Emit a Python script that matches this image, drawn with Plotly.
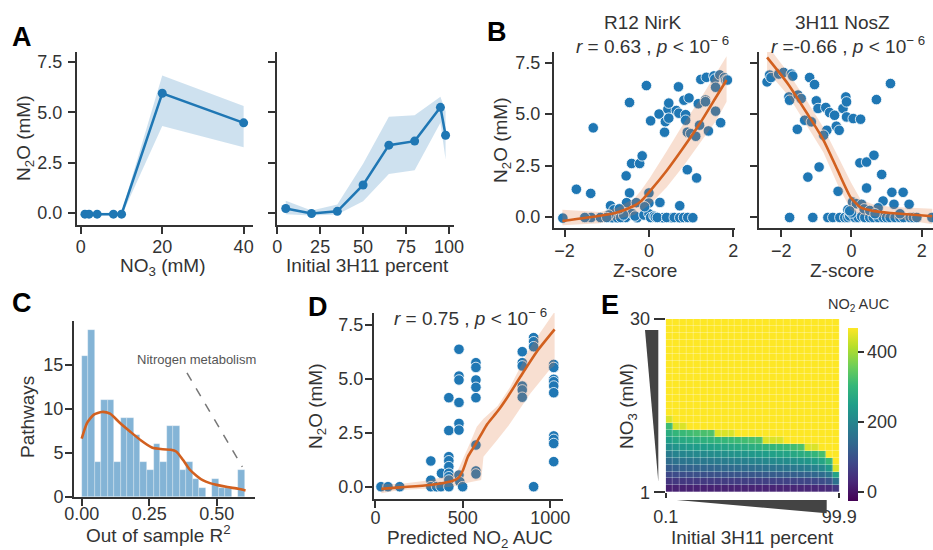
import plotly.graph_objects as go

W, H = 933, 550
FONT = "Liberation Sans, Arial, sans-serif"
INK = "#333333"
BLUE = "#1f77b4"
ORANGE = "#d2601f"
ORANGE_BAND = "rgba(224, 122, 64, 0.24)"
BLUE_BAND = "rgba(31, 119, 180, 0.22)"
TICK_SIZE = 18
TITLE_SIZE = 19

# ---------------- A: N2O vs nitrate and vs initial 3H11 share ----------------
no3_mm = [1, 2, 4, 8, 10, 20, 40]
no3_n2o = [-0.06, -0.06, -0.06, -0.06, -0.06, 5.95, 4.48]
no3_lo = [-0.12, -0.12, -0.12, -0.12, -0.14, 4.32, 3.27]
no3_hi = [0.0, 0.0, 0.0, 0.0, 0.02, 6.83, 5.31]

pct_3h11 = [5, 20, 35, 50, 65, 80, 95, 98]
pct_n2o = [0.22, -0.03, 0.08, 1.39, 3.37, 3.57, 5.25, 3.86]
pct_lo = [-0.06, -0.13, -0.08, 0.58, 1.94, 2.12, 4.48, 2.65]
pct_hi = [0.6, 0.12, 0.42, 2.45, 4.78, 4.86, 5.77, 5.06]

# ---------------- B: N2O vs enzyme Z-scores ----------------
nirk_z = [-2.04, -1.72, -1.38, -1.32, -1.37, -1.15, -1.52, -0.91, -0.87, -0.75,
          -0.83, -0.95, -1.0, -0.54, -0.46, -0.46, -0.41, -0.53, -0.55, -0.4,
          -0.67, -0.6, -0.7, -0.28, -0.33, -0.22, -0.16, -0.06, -0.12, -0.3,
          0.0, 0.0, 0.04, 0.0, 0.04, 0.12, -0.1, 0.15, 0.24, 0.26,
          0.33, 0.2, 0.37, 0.39, 0.45, 0.47, 0.47, 0.54, 0.42, 0.6,
          0.65, 0.70, 0.71, 0.73, 0.73, 0.83, 0.82, 0.87, 0.87, 0.91,
          0.91, 0.92, 0.95, 0.99, 1.04, 1.11, 1.13, 1.17, 1.2, 1.23,
          1.34, 1.36, 1.34, 1.41, 1.54, 1.56, 1.58, 1.58, 1.68, 1.7,
          1.79, 1.82, 1.86]
nirk_n2o = [-0.05, 1.35, 1.15, 4.33, -0.02, -0.02, -0.02, 0.55, -0.03, -0.03,
            0.35, 0.1, -0.02, 2.0, 5.56, 1.17, 2.6, 0.7, -0.02, 0.17,
            -0.02, 0.1, 0.4, -0.03, 0.05, 2.6, 2.97, 6.38, 0.1, 0.7,
            1.17, 0.68, 4.67, 0.16, -0.02, 0.05, 0.5, 0.0, 5.0, 0.71,
            -0.03, -0.02, 4.12, 4.63, 5.24, 5.53, 4.8, -0.03, -0.02, -0.02,
            5.17, 6.32, 5.04, 0.55, -0.03, 5.67, -0.02, 4.97, 4.7, 4.12,
            2.3, -0.02, 5.78, 4.05, -0.03, 3.92, 1.9, 5.5, 4.46, 6.68,
            5.68, 6.78, 5.6, 4.18, 6.85, 6.7, 5.14, 6.3, 6.9, 4.58,
            6.76, 6.65, 6.65]
nirk_fit_z = [-2.05, -1.16, -0.76, -0.35, -0.2, 0.02, 0.42, 0.81, 1.21, 1.6, 1.84]
nirk_fit = [-0.19, 0.06, 0.22, 0.55, 0.75, 1.25, 2.25, 3.35, 4.55, 5.85, 6.65]
nirk_fit_lo = [-0.4, -0.3, -0.1, 0.1, 0.3, 0.6, 1.45, 2.45, 3.6, 4.7, 5.6]
nirk_fit_hi = [0.35, 0.25, 0.45, 0.9, 1.25, 1.9, 3.2, 4.5, 5.7, 7.0, 7.8]
nirk_r = "0.63"

nosz_z = [-2.4, -2.33, -2.29, -2.07, -1.93, -1.71, -1.67, -1.78, -1.76, -1.52,
          -1.54, -1.33, -1.43, -1.19, -1.05, -1.0, -0.95, -1.14, -1.24, -0.92,
          -0.73, -0.7, -0.79, -0.62, -0.48, -0.43, -0.35, -0.24, -0.16, -0.14,
          -0.14, 0.05, 0.26, -0.38, -1.76, -1.1, -0.67, -0.53, -0.33, -0.19,
          -0.1, -0.05, 0.1, 0.19, 0.29, 0.38, 0.52, 0.62, 0.76, 0.9,
          1.0, 1.1, 1.24, 1.38, 1.48, 1.67, 1.76, 1.86, -0.1, 0.03,
          0.14, 0.24, 0.43, 0.64, 0.43, 0.29, 0.36, 0.71, 0.86, 0.9,
          0.76, 1.11, 1.15, 1.21, 1.47, 1.64, 0.52, 0.67, 1.38, 2.29,
          0.0, -0.05]
nosz_n2o = [6.56, 6.89, 6.77, 6.94, 7.02, 6.94, 6.84, 5.83, 5.67, 5.92,
            4.26, 4.7, 5.75, 6.77, 6.43, 5.64, 5.27, 4.62, 1.94, 2.43,
            5.32, 4.21, 3.97, 5.07, 4.94, 4.41, 4.21, 5.27, 5.83, 5.59,
            4.86, 4.78, 4.75, 1.25, -0.02, -0.02, -0.02, -0.02, -0.02, -0.02,
            -0.02, 0.05, -0.02, -0.02, 0.02, -0.02, -0.02, -0.02, -0.02, -0.02,
            -0.02, -0.02, -0.02, -0.02, -0.02, -0.02, -0.02, -0.02, 0.36, 0.73,
            0.65, 2.63, 2.67, 3.0, 1.41, 0.62, 0.4, 5.7, 2.07, 0.78,
            0.45, 6.48, 1.2, 0.62, 1.2, 0.62, 0.32, 0.16, 0.16, -0.02,
            0.2, 0.3]
nosz_fit_z = [-2.4, -1.8, -1.25, -0.8, -0.4, -0.02, 0.26, 0.64, 1.1, 1.6, 2.3]
nosz_fit = [7.75, 6.45, 5.0, 3.75, 2.3, 0.95, 0.47, 0.29, 0.2, 0.14, 0.04]
nosz_fit_lo = [7.1, 5.9, 4.4, 3.15, 1.6, 0.35, 0.1, 0.02, -0.05, -0.15, -0.35]
nosz_fit_hi = [8.35, 7.0, 5.6, 4.35, 3.0, 1.7, 0.85, 0.6, 0.5, 0.45, 0.4]
nosz_r = "-0.66"

# ---------------- C: out-of-sample R^2 of pathway models ----------------
r2_bin_start = 0.0
r2_bin_width = 0.0242
r2_counts = [16, 19, 4, 11, 11, 4, 9, 9, 7, 4, 3, 6, 4, 8, 8, 3, 4, 2, 1, 0, 2, 1, 1, 0, 3]
r2_kde_x = [0.0, 0.02, 0.045, 0.075, 0.105, 0.14, 0.18, 0.22, 0.26, 0.30, 0.33,
            0.35, 0.375, 0.40, 0.425, 0.45, 0.475, 0.50, 0.54, 0.58, 0.607]
r2_kde_y = [6.6, 8.4, 9.35, 9.65, 9.45, 8.45, 7.4, 6.4, 5.6, 5.4, 5.35,
            5.15, 4.2, 3.1, 2.4, 1.85, 1.55, 1.35, 1.1, 0.9, 0.7]
nitrogen_label = "Nitrogen metabolism"

# ---------------- D: N2O vs predicted NO2 AUC ----------------
pred_auc = [32, 72, 139, 317, 317, 317, 350, 375, 378,
            420, 420, 420, 420, 420, 420, 420, 420, 420,
            478, 478, 478, 478, 478, 478, 478, 483, 499,
            575, 575, 575, 575, 575, 575, 575, 575,
            840, 840, 840, 840, 840, 840,
            905, 905, 905, 905,
            1020, 1020, 1020, 1020, 1020, 1020, 1020, 1020, 1020, 1020]
pred_n2o = [0, 0, 0, 1.19, 0.3, 0, 0, 0, 0.62,
            4.12, 2.6, 1.39, 1.2, 0.93, 0.62, 0.46, 0.31, 0.0,
            6.36, 5.12, 4.94, 3.9, 2.93, 2.62, 0.54, 0.23, 0,
            5.74, 5.52, 4.94, 4.6, 4.12, 1.93, 0.73, 0.59,
            6.25, 5.74, 5.59, 4.66, 4.48, 4.14,
            6.9, 6.71, 6.48, 0,
            5.66, 5.52, 4.97, 4.86, 4.66, 4.35, 2.35, 2.19, 2.0, 1.16]
pred_fit_x = [34, 139, 311, 435, 474, 500, 530, 560, 600, 640, 700, 760, 830, 923, 1025]
pred_fit = [-0.1, -0.03, 0.08, 0.25, 0.4, 0.75, 1.4, 1.8, 2.35, 2.9, 3.5, 4.2, 5.1, 6.25, 7.28]
pred_band_x = [34, 139, 311, 435, 474, 500, 540, 580, 605, 618, 700, 770, 885, 1000, 1025]
pred_band_lo = [-0.3, -0.15, -0.08, 0.0, 0.08, 0.12, 0.2, 0.28, 0.31, 1.38, 2.2, 2.92, 4.3, 5.45, 5.6]
pred_band_hi = [0.12, 0.12, 0.3, 0.55, 0.8, 1.25, 2.0, 2.77, 3.0, 3.15, 3.75, 4.6, 6.46, 7.85, 8.1]
pred_r = "0.75"

# ---------------- E: simulated NO2 AUC over NO3 x initial 3H11 ----------------
SAT = 467
LIME = 440
auc_grid = [
    [16, 18, 18, 18, 19, 19, 19, 20, 20, 20, 21, 21, 21, 22, 22, 23, 23, 24, 24, 25, 26, 27, 29, 34, 52],
    [49, 53, 54, 55, 56, 57, 58, 59, 60, 61, 62, 63, 64, 65, 67, 69, 70, 71, 73, 75, 77, 81, 87, 101, 155],
    [82, 88, 90, 92, 94, 95, 96, 98, 100, 102, 103, 105, 107, 109, 112, 115, 116, 118, 121, 125, 129, 135, 145, 168, 258],
    [114, 123, 126, 128, 131, 133, 134, 138, 139, 142, 145, 146, 150, 152, 156, 160, 163, 165, 170, 175, 181, 189, 203, 236, LIME],
    [147, 158, 162, 165, 169, 171, 173, 177, 179, 183, 186, 188, 193, 195, 201, 206, 209, 212, 218, 225, 232, 243, 261, 303, SAT],
    [180, 193, 197, 202, 206, 208, 211, 216, 219, 224, 227, 230, 236, 239, 245, 252, 256, 259, 267, 275, 284, 298, 318, SAT, SAT],
    [213, 228, 233, 239, 244, 246, 250, 255, 259, 265, 268, 272, 279, 282, 290, 298, 302, 306, 315, 325, LIME, LIME, SAT, SAT, SAT],
    [245, 263, 269, 275, 281, 284, 288, 295, 299, 305, 310, 314, 322, 326, LIME, LIME, LIME, SAT, SAT, SAT, SAT, SAT, SAT, SAT, SAT],
    [278, 298, 305, 312, 319, 322, 326, LIME, LIME, LIME, SAT, SAT, SAT, SAT, SAT, SAT, SAT, SAT, SAT, SAT, SAT, SAT, SAT, SAT, SAT],
    [310, LIME, LIME, SAT, SAT, SAT, SAT, SAT, SAT, SAT, SAT, SAT, SAT, SAT, SAT, SAT, SAT, SAT, SAT, SAT, SAT, SAT, SAT, SAT, SAT],
    [LIME] + [SAT] * 24,
] + [[SAT] * 25 for _ in range(14)]
heat_x_labels = ["0.1", "99.9"]
heat_y_labels = ["1", "30"]
auc_ticks = [0, 200, 400]
auc_min, auc_max = -28, 467


def fx(p):
    return p / W


def fy(p):
    return 1 - p / H


def band(x, lo, hi, color, xa, ya):
    return go.Scatter(x=list(x) + list(x)[::-1], y=list(hi) + list(lo)[::-1],
                      fill="toself", fillcolor=color, mode="lines", line=dict(width=0),
                      xaxis=xa, yaxis=ya, hoverinfo="skip", showlegend=False)


def dots(x, y, xa, ya):
    return go.Scatter(x=x, y=y, mode="markers", xaxis=xa, yaxis=ya, showlegend=False,
                      marker=dict(size=10.5, color=BLUE, line=dict(color="white", width=0.8)))


def curve(x, y, xa, ya, color=ORANGE, shape="spline"):
    return go.Scatter(x=x, y=y, mode="lines", xaxis=xa, yaxis=ya, showlegend=False,
                      line=dict(color=color, width=2.6, shape=shape, smoothing=0.6))


traces = []
# A
traces.append(band(no3_mm, no3_lo, no3_hi, BLUE_BAND, "x", "y"))
traces.append(go.Scatter(x=no3_mm, y=no3_n2o, mode="lines+markers", xaxis="x", yaxis="y",
                         line=dict(color=BLUE, width=2.5), marker=dict(size=9, color=BLUE),
                         showlegend=False))
traces.append(band(pct_3h11, pct_lo, pct_hi, BLUE_BAND, "x2", "y2"))
traces.append(go.Scatter(x=pct_3h11, y=pct_n2o, mode="lines+markers", xaxis="x2", yaxis="y2",
                         line=dict(color=BLUE, width=2.5), marker=dict(size=9, color=BLUE),
                         showlegend=False))
# B
traces.append(dots(nirk_z, nirk_n2o, "x3", "y3"))
traces.append(band(nirk_fit_z, nirk_fit_lo, nirk_fit_hi, ORANGE_BAND, "x3", "y3"))
traces.append(curve(nirk_fit_z, nirk_fit, "x3", "y3"))
traces.append(dots(nosz_z, nosz_n2o, "x4", "y4"))
traces.append(band(nosz_fit_z, nosz_fit_lo, nosz_fit_hi, ORANGE_BAND, "x4", "y4"))
traces.append(curve(nosz_fit_z, nosz_fit, "x4", "y4"))
# C
r2_centers = [r2_bin_start + r2_bin_width * (i + 0.5) for i in range(len(r2_counts))]
traces.append(go.Bar(x=r2_centers, y=r2_counts, width=r2_bin_width, xaxis="x5", yaxis="y5",
                     marker=dict(color="rgba(31, 119, 180, 0.55)",
                                 line=dict(color="rgba(255,255,255,0.5)", width=0.6)),
                     showlegend=False))
traces.append(curve(r2_kde_x, r2_kde_y, "x5", "y5"))
# D
traces.append(dots(pred_auc, pred_n2o, "x6", "y6"))
traces.append(band(pred_band_x, pred_band_lo, pred_band_hi, ORANGE_BAND, "x6", "y6"))
traces.append(curve(pred_fit_x, pred_fit, "x6", "y6"))
# E
traces.append(go.Heatmap(
    z=auc_grid, xaxis="x7", yaxis="y7", colorscale="Viridis", zmin=auc_min, zmax=auc_max,
    xgap=0.3, ygap=0.3,
    colorbar=dict(thickness=10, len=173.4 / H, lenmode="fraction", x=fx(848.3), xanchor="left",
                  y=fy(415), yanchor="middle", xpad=0, ypad=0, outlinewidth=0,
                  tickvals=auc_ticks, ticks="outside", ticklen=6, tickwidth=1.5, tickcolor=INK,
                  tickfont=dict(family=FONT, size=TICK_SIZE, color=INK)),
))

fig = go.Figure(traces)

tickfont = dict(family=FONT, size=TICK_SIZE, color=INK)


def axis(px0, px1, rng, anchor, standoff=0, **kw):
    d = dict(domain=[px0, px1], range=rng, anchor=anchor, showline=True, linecolor=INK,
             linewidth=2, ticks="outside", ticklen=7, tickwidth=1.6, tickcolor=INK,
             showgrid=False, zeroline=False, tickfont=tickfont, fixedrange=True,
             automargin=False, ticklabelstandoff=standoff)
    d.update(kw)
    return d


n2o_ticks = dict(tickvals=[0, 2.5, 5, 7.5], ticktext=["0.0", "2.5", "5.0", "7.5"])
z_ticks = dict(tickvals=[-2, 0, 2], ticktext=["\u22122", "0", "2"])

layout = dict(
    template="none",
    width=W, height=H, autosize=False,
    margin=dict(l=0, r=0, t=0, b=0, pad=0, autoexpand=False),
    paper_bgcolor="white", plot_bgcolor="white",
    font=dict(family=FONT, size=TITLE_SIZE, color=INK),
    showlegend=False, bargap=0,
    xaxis=axis(fx(77), fx(253), [-0.95, 42.3], "y", standoff=-3, tickvals=[0, 20, 40]),
    yaxis=axis(fy(225), fy(52), [-0.6, 8.0], "x", standoff=2, **n2o_ticks),
    xaxis2=axis(fx(277), fx(454), [-0.1, 102.9], "y2", standoff=-3, tickvals=[0, 25, 50, 75, 100]),
    yaxis2=axis(fy(225), fy(52), [-0.6, 8.0], "x2", tickvals=[0, 2.5, 5, 7.5], showticklabels=False),
    xaxis3=axis(fx(554), fx(735), [-2.25, 2.04], "y3", standoff=-2, **z_ticks),
    yaxis3=axis(fy(228), fy(52), [-0.53, 8.01], "x3", standoff=1, **n2o_ticks),
    xaxis4=axis(fx(759), 1.0, [-2.63, 2.32], "y4", standoff=-2, **z_ticks),
    yaxis4=axis(fy(228), fy(52), [-0.53, 8.01], "x4", tickvals=[0, 2.5, 5, 7.5], showticklabels=False),
    xaxis5=axis(fx(74), fx(255), [-0.0285, 0.642], "y5", standoff=-8, tickvals=[0, 0.25, 0.5],
                ticktext=["0.00", "0.25", "0.50"]),
    yaxis5=axis(fy(497), fy(321), [-0.03, 20], "x5", standoff=-2, tickvals=[0, 5, 10, 15]),
    xaxis6=axis(fx(374), fx(563), [-8, 1073], "y6", standoff=-6, tickvals=[0, 500, 1000]),
    yaxis6=axis(fy(499), fy(313), [-0.57, 8.04], "x6", standoff=-2, **n2o_ticks),
    xaxis7=dict(domain=[fx(665.7), fx(839.3)], range=[-0.5, 24.5], anchor="y7", showline=False,
                showgrid=False, zeroline=False, ticks="outside", ticklen=5, tickwidth=1.5,
                tickcolor=INK, tickvals=[-0.5, 24.5], ticktext=heat_x_labels, tickfont=tickfont,
                fixedrange=True, automargin=False, ticklabelstandoff=3),
    yaxis7=dict(domain=[fy(492.3), fy(319)], range=[-0.5, 24.5], anchor="x7", showline=False,
                showgrid=False, zeroline=False, ticks="outside", ticklen=11, tickwidth=1.5,
                tickcolor=INK, tickvals=[-0.5, 24.5], ticktext=heat_y_labels, tickfont=tickfont,
                fixedrange=True, automargin=False),
)
fig.update_layout(**layout)


def label(text, x, y, size=TITLE_SIZE, angle=0, color=INK, **kw):
    fig.add_annotation(text=text, x=fx(x), y=fy(y), xref="paper", yref="paper", showarrow=False,
                       xanchor="center", yanchor="middle", textangle=angle,
                       font=dict(family=FONT, size=size, color=color), **kw)


# panel letters
for letter, lx, ly in [("A", 22, 37), ("B", 497, 32), ("C", 22, 303), ("D", 318, 307), ("E", 610, 305)]:
    label("<b>%s</b>" % letter, lx, ly, size=27, color="black")

# axis titles
label("N<sub>2</sub>O (mM)", 25, 138, angle=-90)
label("NO<sub>3</sub> (mM)", 163, 267)
label("Initial 3H11 percent", 367, 265)
label("N<sub>2</sub>O (mM)", 502, 140, angle=-90)
label("Z-score", 645, 270)
label("Z-score", 842, 270)
label("R12 NirK", 642, 22)
label("3H11 NosZ", 842, 22)
label("<i>r</i> = %s , <i>p</i> &lt; 10<sup>\u2212 6</sup>" % nirk_r, 652, 45)
label("<i>r</i> =%s , <i>p</i> &lt; 10<sup>\u2212 6</sup>" % nosz_r, 848, 45)
label("Pathways", 27, 417, angle=-90)
label("Out of sample R<sup>2</sup>", 158, 534)
label("N<sub>2</sub>O (mM)", 317, 406, angle=-90)
label("Predicted NO<sub>2</sub> AUC", 470, 539)
label("<i>r</i> = %s , <i>p</i> &lt; 10<sup>\u2212 6</sup>" % pred_r, 470, 317)
label("NO<sub>3</sub> (mM)", 628, 406, angle=-90)
label("Initial 3H11 percent", 752, 537)
label("NO<sub>2</sub> AUC", 858, 305, size=14.5)

# annotation of the best pathway in C
fig.add_annotation(text=nitrogen_label, x=0.427, y=15.6, xref="x5", yref="y5", showarrow=False,
                   xanchor="center", yanchor="middle", font=dict(family=FONT, size=13, color="#555"))
fig.add_shape(type="line", x0=0.39, y0=14.1, x1=0.595, y1=3.4, xref="x5", yref="y5",
              line=dict(color="#777", width=1.5, dash="dash"))

# wedges marking increasing NO3 and 3H11 share
fig.add_shape(type="path", xref="paper", yref="paper", fillcolor="#444", line=dict(width=0),
              path="M %f,%f L %f,%f L %f,%f Z" % (fx(645), fy(330), fx(658.3), fy(330), fx(658.3), fy(481.7)))
fig.add_shape(type="path", xref="paper", yref="paper", fillcolor="#444", line=dict(width=0),
              path="M %f,%f L %f,%f L %f,%f Z" % (fx(676.7), fy(500), fx(826.7), fy(500), fx(826.7), fy(513.3)))

fig.write_html("out.html", post_script="document.body.style.margin = '0';")
